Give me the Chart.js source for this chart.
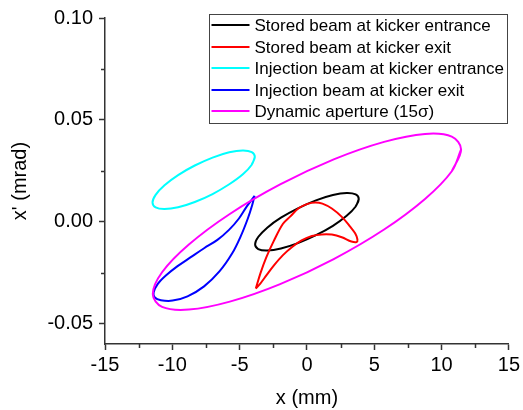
<!DOCTYPE html>
<html lang="en">
<head>
    <meta charset="UTF-8">
    <title>Beam phase space at kicker</title>
    <script src="https://cdn.jsdelivr.net/npm/chart.js"></script>
    <style>
        body {
            margin: 0;
            background: #fff;
        }
        canvas {
            display: block;
        }
    </style>
</head>
<body>
    <canvas id="phaseChart" width="523" height="410"></canvas>

    <script>
        // Axis ticks
        const xTicks = [-15, -10, -5, 0, 5, 10, 15];
        const xMinorTicks = [-12.5, -7.5, -2.5, 2.5, 7.5, 12.5];
        const yTicks = [-0.05, 0.00, 0.05, 0.10];
        const yMinorTicks = [-0.025, 0.025, 0.075];

        const seriesLabels = [
            'Stored beam at kicker entrance',
            'Stored beam at kicker exit',
            'Injection beam at kicker entrance',
            'Injection beam at kicker exit',
            'Dynamic aperture (15\u03c3)'
        ];

        // Contours as [x (mm), x' (mrad)]
        const storedEntrance = [
            [3.85, 0.0111], [3.62, 0.0134], [2.95, 0.0141], [1.93, 0.0131], [0.67, 0.0105],
            [-0.67, 0.0066], [-1.93, 0.0020], [-2.95, -0.0029], [-3.62, -0.0075], [-3.85, -0.0111],
            [-3.62, -0.0134], [-2.95, -0.0141], [-1.93, -0.0131], [-0.67, -0.0105], [0.67, -0.0066],
            [1.93, -0.0020], [2.95, 0.0029], [3.62, 0.0075]
        ];

        const storedExit = [
            [-3.80, -0.0328], [-3.45, -0.0252], [-3.02, -0.0175], [-2.46, -0.0094], [-1.78, -0.0010],
            [-1.25, 0.0025], [-0.62, 0.0066], [0.05, 0.0088], [0.62, 0.0095], [1.15, 0.0089],
            [1.85, 0.0065], [2.59, 0.0024], [3.21, -0.0024], [3.58, -0.0057], [3.75, -0.0087],
            [3.68, -0.0100], [3.30, -0.0097], [2.59, -0.0076], [1.85, -0.0063], [1.11, -0.0062],
            [0.37, -0.0070], [-0.40, -0.0092], [-1.10, -0.0124], [-1.80, -0.0165], [-2.45, -0.0214],
            [-3.00, -0.0262], [-3.45, -0.0302]
        ];

        const injectionEntrance = [
            [-3.87, 0.0318], [-4.10, 0.0342], [-4.76, 0.0350], [-5.77, 0.0341], [-7.01, 0.0315],
            [-8.33, 0.0276], [-9.57, 0.0229], [-10.58, 0.0179], [-11.24, 0.0132], [-11.47, 0.0094],
            [-11.24, 0.0070], [-10.58, 0.0062], [-9.57, 0.0071], [-8.33, 0.0097], [-7.01, 0.0136],
            [-5.77, 0.0184], [-4.76, 0.0233], [-4.10, 0.0280]
        ];

        const injectionExit = [
            [-3.89, 0.0127], [-4.44, 0.0078], [-5.05, 0.0016], [-5.79, -0.0040], [-6.65, -0.0089],
            [-7.64, -0.0130], [-8.63, -0.0174], [-9.61, -0.0218], [-10.48, -0.0264], [-11.09, -0.0306],
            [-11.39, -0.0347], [-11.30, -0.0372], [-10.85, -0.0385], [-9.98, -0.0387], [-8.87, -0.0366],
            [-7.64, -0.0317], [-6.50, -0.0244], [-5.55, -0.0155], [-4.93, -0.0073], [-4.39, 0.0016],
            [-4.07, 0.0081]
        ];

        const dynamicAperture = [
            [11.45, 0.0355], [10.76, 0.0418], [8.77, 0.0431], [5.73, 0.0392], [1.99, 0.0306],
            [-1.99, 0.0183], [-5.73, 0.0038], [-8.77, -0.0112], [-10.76, -0.0248], [-11.45, -0.0355],
            [-10.76, -0.0418], [-8.77, -0.0431], [-5.73, -0.0392], [-1.99, -0.0306], [1.99, -0.0183],
            [5.73, -0.0038], [8.77, 0.0112], [10.76, 0.0248]
        ];

        // smooth closed ellipse: overlap one point on each side
        function ring(pts) {
            const p = [pts[pts.length - 1], ...pts, pts[0]];
            return p.map(([x, y]) => ({ x, y }));
        }
        // loop with a cusp at its first point
        function loop(pts) {
            return [...pts, pts[0]].map(([x, y]) => ({ x, y }));
        }

        const FONT = '"Liberation Sans", Arial, sans-serif';
        Chart.defaults.font.family = FONT;
        Chart.defaults.color = '#000';

        // minor tick marks, between the labelled ones
        const minorTicks = {
            id: 'minorTicks',
            afterDraw(chart) {
                const { ctx, chartArea, scales } = chart;
                ctx.save();
                ctx.strokeStyle = '#333';
                ctx.lineWidth = 1.5;
                ctx.beginPath();
                xMinorTicks.forEach(v => {
                    const px = Math.round(scales.x.getPixelForValue(v)) + 0.5;
                    ctx.moveTo(px, chartArea.bottom);
                    ctx.lineTo(px, chartArea.bottom + 4);
                });
                yMinorTicks.forEach(v => {
                    const py = Math.round(scales.y.getPixelForValue(v)) + 0.5;
                    ctx.moveTo(chartArea.left, py);
                    ctx.lineTo(chartArea.left - 4, py);
                });
                ctx.stroke();
                ctx.restore();
            }
        };

        // framed legend in the upper right corner
        const boxLegend = {
            id: 'boxLegend',
            afterDraw(chart) {
                const ctx = chart.ctx;
                const left = 209.5, top = 14.5, w = 298, h = 109;
                ctx.save();
                ctx.fillStyle = '#fff';
                ctx.fillRect(left, top, w, h);
                ctx.strokeStyle = '#444';
                ctx.lineWidth = 1;
                ctx.strokeRect(left, top, w, h);
                ctx.font = '17px ' + FONT;
                ctx.textBaseline = 'middle';
                chart.data.datasets.forEach((ds, i) => {
                    const rowY = Math.round(top + 10.5 + i * 21.5);
                    ctx.strokeStyle = ds.borderColor;
                    ctx.lineWidth = 2;
                    ctx.beginPath();
                    ctx.moveTo(left + 2, rowY);
                    ctx.lineTo(left + 40, rowY);
                    ctx.stroke();
                    ctx.fillStyle = '#000';
                    ctx.fillText(ds.label, left + 45, rowY + 1);
                });
                ctx.restore();
            }
        };

        const ctx = document.getElementById('phaseChart').getContext('2d');
        const phaseChart = new Chart(ctx, {
            type: 'scatter',
            data: {
                datasets: [
                    { label: seriesLabels[0], data: ring(storedEntrance), borderColor: '#000000', order: 5 },
                    { label: seriesLabels[1], data: loop(storedExit), borderColor: '#ff0000', order: 4 },
                    { label: seriesLabels[2], data: ring(injectionEntrance), borderColor: '#00ffff', order: 3 },
                    { label: seriesLabels[3], data: loop(injectionExit), borderColor: '#0000ff', order: 2 },
                    { label: seriesLabels[4], data: ring(dynamicAperture), borderColor: '#ff00ff', order: 1 }
                ].map(ds => Object.assign(ds, {
                    showLine: true,
                    fill: false,
                    borderWidth: 2,
                    tension: 0.35,
                    pointRadius: 0,
                    pointHoverRadius: 0
                }))
            },
            options: {
                responsive: false,
                animation: false,
                layout: {
                    padding: { left: 0, right: 12, top: 16, bottom: 0 }
                },
                plugins: {
                    legend: { display: false },
                    tooltip: { enabled: false }
                },
                scales: {
                    x: {
                        type: 'linear',
                        min: -15,
                        max: 15,
                        afterBuildTicks: s => { s.ticks = xTicks.map(v => ({ value: v })); },
                        afterFit: s => { s.height = 66; },
                        ticks: {
                            font: { size: 20 },
                            color: '#000',
                            padding: 3,
                            maxRotation: 0,
                            autoSkip: false,
                            callback: v => String(v)
                        },
                        grid: {
                            drawOnChartArea: false,
                            drawTicks: true,
                            tickLength: 6,
                            tickWidth: 1.5,
                            tickColor: '#333'
                        },
                        border: { color: '#333', width: 1.5 },
                        title: {
                            display: true,
                            text: 'x (mm)',
                            font: { size: 20 },
                            color: '#000',
                            padding: { top: 0, bottom: 0 }
                        }
                    },
                    y: {
                        type: 'linear',
                        min: -0.06,
                        max: 0.10,
                        afterBuildTicks: s => { s.ticks = yTicks.map(v => ({ value: v })); },
                        afterFit: s => { s.width = 105; },
                        ticks: {
                            font: { size: 20 },
                            color: '#000',
                            padding: 6,
                            autoSkip: false,
                            callback: v => v.toFixed(2)
                        },
                        grid: {
                            drawOnChartArea: false,
                            drawTicks: true,
                            tickLength: 6,
                            tickWidth: 1.5,
                            tickColor: '#333'
                        },
                        border: { color: '#333', width: 1.5 },
                        title: {
                            display: true,
                            text: "x' (mrad)",
                            font: { size: 20 },
                            color: '#000',
                            padding: { top: 8, bottom: 0 }
                        }
                    }
                }
            },
            plugins: [minorTicks, boxLegend]
        });
    </script>
</body>
</html>
